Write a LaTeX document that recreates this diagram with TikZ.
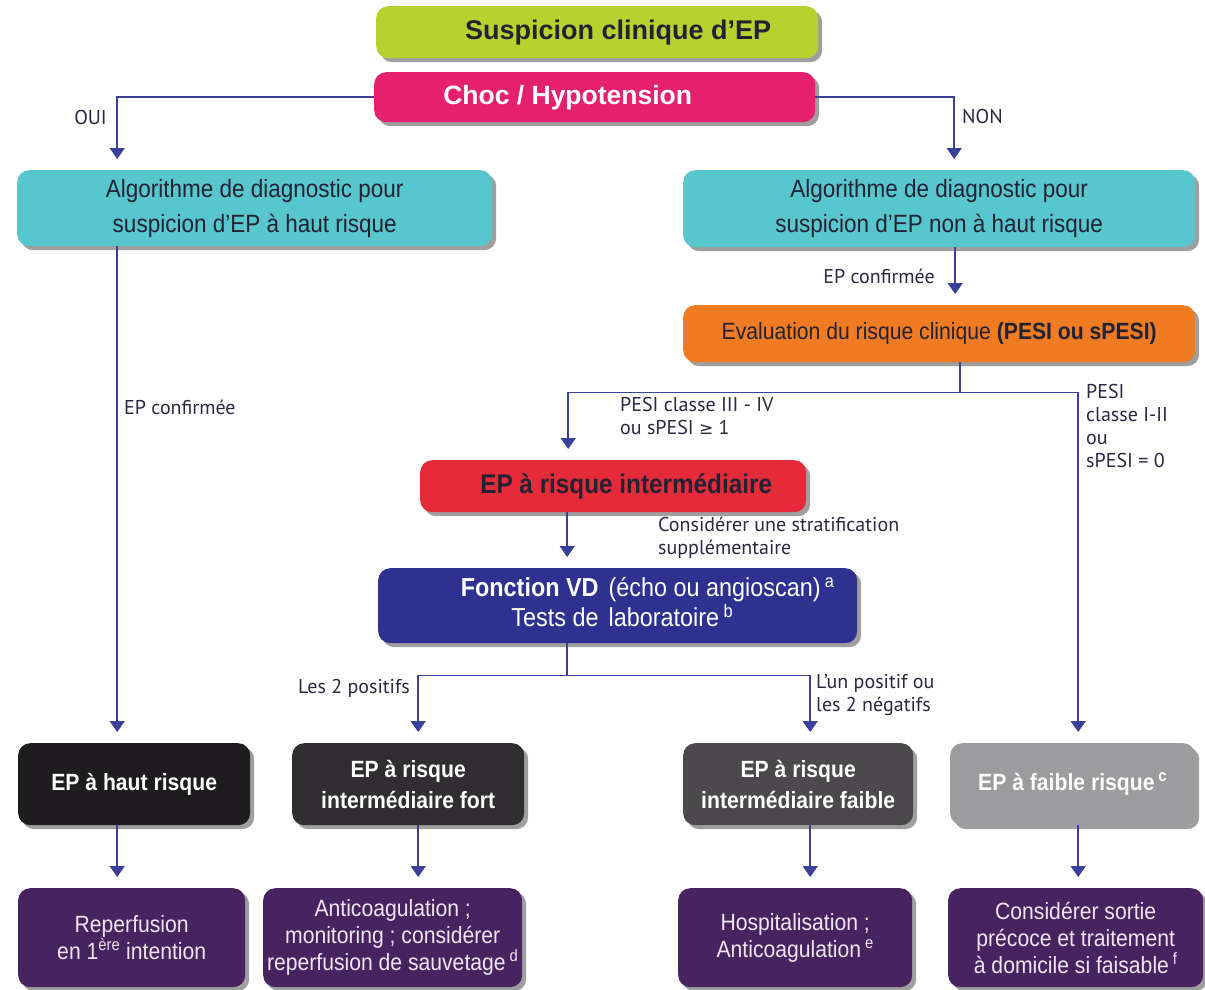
\documentclass[tikz,border=0pt]{standalone}
\usepackage{fontspec}
\setmainfont{Liberation Sans}
\newfontfamily\narrowfont[FakeStretch=0.9]{Liberation Sans}
\newfontfamily\labfont{PT Sans}
\newfontfamily\dvs{DejaVu Sans}
\usetikzlibrary{arrows.meta,shadows}

\definecolor{lime}{HTML}{B7D22F}
\definecolor{pink}{HTML}{E5206F}
\definecolor{teal}{HTML}{58C6CD}
\definecolor{orng}{HTML}{F07B22}
\definecolor{redb}{HTML}{E52A3A}
\definecolor{navyb}{HTML}{2E3190}
\definecolor{blk1}{HTML}{1E1C1E}
\definecolor{blk2}{HTML}{302E31}
\definecolor{gry3}{HTML}{4B494C}
\definecolor{gry4}{HTML}{9C9B9D}
\definecolor{purp}{HTML}{472460}
\definecolor{lineblue}{HTML}{3B3F9C}
\definecolor{labtext}{HTML}{2A2840}
\definecolor{darktext}{HTML}{222233}
\definecolor{lighttext}{HTML}{F0E6F2}

\tikzset{
  box/.style={rounded corners=12pt, anchor=north west, inner sep=2pt, align=center,
    drop shadow={shadow xshift=4pt,shadow yshift=-4pt,opacity=.5,fill=black!75}},
  line/.style={draw=lineblue, line width=1.6pt},
  arr/.style={line, -{Triangle[width=15pt,length=11pt]}, shorten >=11pt},
  lab/.style={font=\labfont\fontsize{20}{23}\selectfont, text=labtext, inner sep=0pt, align=left},
  resbox/.style={box, fill=purp, text=lighttext, minimum height=99pt,
    font=\narrowfont\fontsize{23.5}{27}\selectfont},
  riskbox/.style={box, text=white, minimum height=82pt,
    font=\narrowfont\bfseries\fontsize{23.5}{31}\selectfont},
}

\begin{document}
\begin{tikzpicture}[x=1pt,y=-1pt]
\useasboundingbox[fill=white] (0,0) rectangle (1205,990);

% top boxes
\node[box, fill=lime, text=darktext, minimum width=442pt, minimum height=52pt,
  font=\bfseries\fontsize{27}{30}\selectfont] (sus) at (376,6) {\hspace*{42pt}Suspicion clinique d’EP};
\node[box, fill=pink, text=white, minimum width=441pt, minimum height=50pt,
  font=\bfseries\fontsize{26.5}{30}\selectfont] (choc) at (374,72) {Choc / Hypotension\hspace*{54pt}};

\node[box, fill=teal, text=darktext, minimum width=475pt, minimum height=76pt,
  font=\narrowfont\fontsize{25}{35}\selectfont] (algoL) at (17,170) {Algorithme de diagnostic pour\\suspicion d’EP à haut risque};
\node[box, fill=teal, text=darktext, minimum width=512pt, minimum height=77pt,
  font=\narrowfont\fontsize{25}{35}\selectfont] (algoR) at (683,170) {Algorithme de diagnostic pour\\suspicion d’EP non à haut risque};

\node[box, fill=orng, text=darktext, minimum width=512pt, minimum height=57pt,
  font=\narrowfont\fontsize{23.5}{26}\selectfont] (eval) at (683,305) {Evaluation du risque clinique \textbf{(PESI ou sPESI)}};

\node[box, fill=redb, text=darktext, minimum width=386pt, minimum height=52pt,
  font=\narrowfont\bfseries\fontsize{27}{30}\selectfont] (inter) at (420,460) {\hspace*{26pt}EP à risque intermédiaire};

\node[box, fill=navyb, text=white, minimum width=479pt, minimum height=75pt,
  font=\narrowfont\fontsize{26}{29}\selectfont] (vd) at (378,568)
  {\hspace*{60pt}\begin{tabular}{@{}r@{\hspace{10pt}}l@{}}\textbf{Fonction VD} & (écho ou angioscan)\,\textsuperscript{a}\\
   Tests de & laboratoire\,\textsuperscript{b}\end{tabular}};

% risk row
\node[riskbox, fill=blk1, minimum width=232pt] (r1a) at (18,743) {EP à haut risque};
\node[riskbox, fill=blk2, minimum width=232pt] (r1b) at (292,743) {EP à risque\\intermédiaire fort};
\node[riskbox, fill=gry3, minimum width=230pt] (r1c) at (683,743) {EP à risque\\intermédiaire faible};
\node[riskbox, fill=gry4, minimum width=245pt] (r1d) at (950,743) {EP à faible risque\,\textsuperscript{c}};

% result row
\node[resbox, minimum width=227pt] (r2a) at (18,888) {Reperfusion\\en 1\textsuperscript{ère} intention};
\node[resbox, minimum width=259pt] (r2b) at (263,888) {Anticoagulation ;\\monitoring ; considérer\\reperfusion de sauvetage\,\textsuperscript{d}};
\node[resbox, minimum width=234pt] (r2c) at (678,888) {Hospitalisation ;\\Anticoagulation\,\textsuperscript{e}};
\node[resbox, minimum width=255pt] (r2d) at (948,888) {Considérer sortie\\précoce et traitement\\à domicile si faisable\,\textsuperscript{f}};

% connectors
\coordinate (xL) at ([xshift=-137.5pt]algoL.south);
\draw[arr] (choc.west) -| (xL |- algoL.north);
\draw[arr] (choc.east) -| ([xshift=15pt]algoR.north);
\draw[arr] (xL) -- (xL |- r1a.north);
\coordinate (xR) at ([xshift=16pt]algoR.south);
\draw[arr] (xR) -- (xR |- eval.north);
\draw[line] ([xshift=21pt]eval.south) -- ++(0,30) coordinate (sp1);
\draw[arr] (sp1) -| ([xshift=-45pt]inter.north);
\draw[arr] (sp1) -| ([xshift=5.5pt]r1d.north);
\coordinate (xI) at ([xshift=-46pt]inter.south);
\draw[arr] (xI) -- (xI |- vd.north);
\draw[line] (xI |- vd.south) -- ++(0,32) coordinate (sp2);
\draw[arr] (sp2) -| ([xshift=10pt]r1b.north);
\draw[arr] (sp2) -| ([xshift=12pt]r1c.north);
\draw[arr] (xL |- r1a.south) -- (xL |- r2a.north);
\coordinate (xB) at ([xshift=10pt]r1b.south);
\draw[arr] (xB) -- (xB |- r2b.north);
\coordinate (xC) at ([xshift=12pt]r1c.south);
\draw[arr] (xC) -- (xC |- r2c.north);
\coordinate (xD) at ([xshift=5.5pt]r1d.south);
\draw[arr] (xD) -- (xD |- r2d.north);

% labels
\node[lab, anchor=east] (oui) at (107,117) {OUI};
\node[lab, anchor=west] (non) at (962,116) {NON};
\node[lab, anchor=west] (conf1) at (124,407) {EP confirmée};
\node[lab, anchor=east] (conf2) at (935,276) {EP confirmée};
\node[lab, anchor=north west] (pesi1) at (620,397) {PESI classe III - IV\\ou sPESI {\dvs\fontsize{17}{23}\selectfont ≥} 1};
\node[lab, anchor=north west] (pesi2) at (1086,384) {PESI\\classe I-II\\ou\\sPESI = 0};
\node[lab, anchor=north west] (strat) at (658,517) {Considérer une stratification\\supplémentaire};
\node[lab, anchor=east] (pos) at (410,688) {Les 2 positifs};
\node[lab, anchor=north west] (neg) at (816,674) {L’un positif ou\\les 2 négatifs};
\end{tikzpicture}
\end{document}
